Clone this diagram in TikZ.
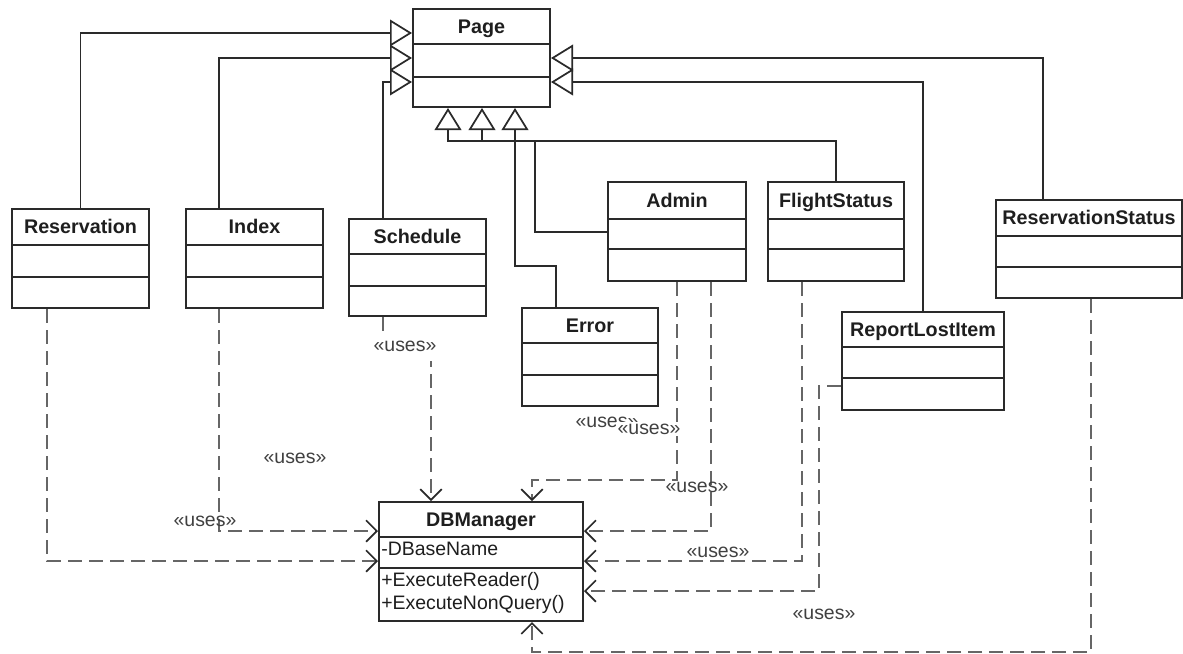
\documentclass[tikz,border=0pt]{standalone}
\usepackage{fontspec}
\setmainfont{Liberation Sans}
\usetikzlibrary{arrows.meta,fit}

\definecolor{boxline}{HTML}{2A2A2A}
\definecolor{useline}{HTML}{666666}
\definecolor{txt}{HTML}{1E1E1E}

\tikzset{
  classbox/.style={draw=boxline, line width=1.5pt, inner sep=0pt},
  divider/.style={draw=boxline, line width=1.5pt},
  ctitle/.style={font=\fontsize{14.8}{17}\selectfont\bfseries, text=txt, inner sep=0pt,
                 text height=1.55ex, text depth=0.3ex, yshift=-1.6pt},
  member/.style={font=\fontsize{14.6}{17}\selectfont, text=txt, inner sep=0pt, anchor=west,
                 text height=1.55ex, text depth=0.3ex, yshift=-1pt},
  gen/.style={draw=boxline, line width=1.3pt,
              -{Triangle[open, length=16.5pt, width=20pt, line width=1.3pt]}},
  uses/.style={draw=useline, line width=2pt, dash pattern=on 10.5pt off 5.25pt,
               -{Straight Barb[length=8pt, width=16pt, line width=1.3pt, color=boxline]}},
  useslabel/.style={font=\fontsize{14.6}{17}\selectfont, text=txt!85, inner sep=1pt},
}

% class box: name, x1, y1, x2, y2, first divider, second divider, title
\newcommand{\umlclass}[8]{%
  \node[classbox, fit={(#2,#3) (#4,#5)}] (#1) {};
  \draw[divider] (#2,#6) -- (#4,#6);
  \draw[divider] (#2,#7) -- (#4,#7);
  \node[ctitle] (#1-title) at ({(#2+#4)/2},{(#3+#6)/2}) {#8};
}

\begin{document}
\begin{tikzpicture}[x=0.75pt, y=-0.75pt]
  \fill[white] (0,0) rectangle (1183,654);
  \useasboundingbox (0,0) rectangle (1183,654);

  % classes
  \umlclass{page}{413}{9}{550}{107}{44}{77}{Page}
  \umlclass{res}{12}{209}{149}{308}{245}{277}{Reservation}
  \umlclass{idx}{186}{209}{323}{308}{245}{277}{Index}
  \umlclass{sch}{349}{219}{486}{316}{254}{286}{Schedule}
  \umlclass{admin}{608}{182}{746}{281}{219}{249}{Admin}
  \umlclass{flight}{768}{182}{904}{281}{219}{249}{FlightStatus}
  \umlclass{err}{522}{308}{658}{406}{343}{375}{Error}
  \umlclass{rli}{842}{312}{1004}{410}{347}{378}{ReportLostItem}
  \umlclass{rstat}{996}{200}{1182}{298}{236}{267}{ReservationStatus}
  \umlclass{dbm}{379}{502}{583}{621}{537}{568}{DBManager}

  \node[member] (dbm-attr) at (381,550) {-DBaseName};
  \node[member] (dbm-op1) at (381,581) {+ExecuteReader()};
  \node[member] (dbm-op2) at (381,604) {+ExecuteNonQuery()};

  % generalisations to Page
  \draw[gen] (res.north) |- (page.west |- 0,33);
  \draw[gen] (idx.north -| 219,0) |- (page.west |- 0,58);
  \draw[gen] (sch.north -| 383,0) |- (page.west |- 0,82);
  \draw[gen] (rstat.north -| 1043,0) |- (page.east |- 0,58);
  \draw[gen] (rli.north) |- (page.east |- 0,82);
  \draw[gen] (flight.north) |- (448,141) -- (page.south -| 448,0);
  \draw[gen] (admin.west |- 0,232) -| (535,141) -| (page.south -| 482,0);
  \draw[gen] (err.north -| 556,0) |- (515,266) -- (page.south -| 515,0);

  % dependencies on DBManager
  \draw[uses] (res.south -| 47,0) |- (dbm.west |- 0,561);
  \draw[uses] (idx.south -| 219,0) |- (dbm.west |- 0,531);
  \draw[uses] (sch.south -| 383,0) |- (431,346) -- (dbm.north -| 431,0);
  \draw[uses] (admin.south -| 677,0) |- (532,480) -- (dbm.north -| 532,0);
  \draw[uses] (admin.south -| 711,0) |- (dbm.east |- 0,531);
  \draw[uses] (flight.south -| 802,0) |- (dbm.east |- 0,561);
  \draw[uses] (rli.west |- 0,386) -- (819,386) |- (dbm.east |- 0,591);
  \draw[uses] (rstat.south -| 1091,0) |- (532,652) -- (dbm.south -| 532,0);

  % stereotype labels
  \node[useslabel, fill=white, minimum height=22pt] (l-sch) at (405,346) {«uses»};
  \node[useslabel] (l-idx) at (205,521) {«uses»};
  \node[useslabel] (l-res) at (295,458) {«uses»};
  \node[useslabel] (l-adm1) at (607,422) {«uses»};
  \node[useslabel, fill=white] (l-adm2) at (649,429) {«uses»};
  \node[useslabel] (l-adm3) at (697,487) {«uses»};
  \node[useslabel, fill=white, inner xsep=5pt] (l-fs) at (718,552) {«uses»};
  \node[useslabel] (l-rs) at (824,614) {«uses»};
\end{tikzpicture}
\end{document}
